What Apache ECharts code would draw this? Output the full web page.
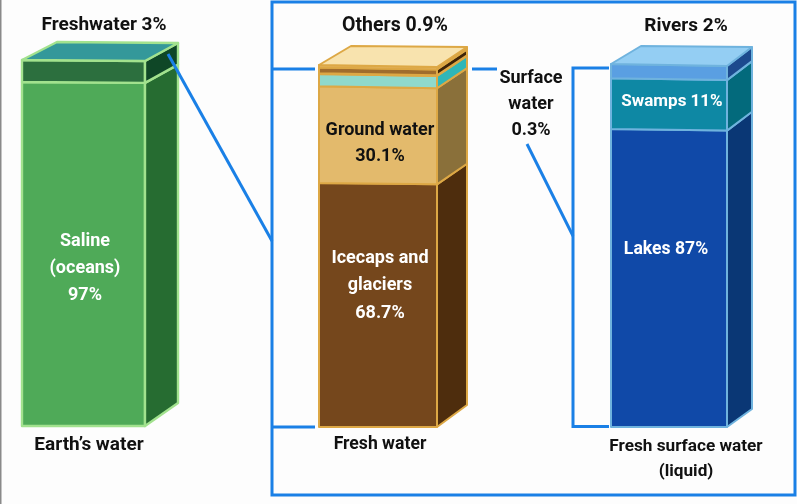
<!DOCTYPE html>
<html><head><meta charset="utf-8">
<script src="https://cdn.jsdelivr.net/npm/echarts@6/dist/echarts.min.js"></script>
<style>html,body{margin:0;padding:0;background:#fdfdfd}#c{width:797px;height:504px}</style>
</head><body><div id="c"></div>
<script>
// Band heights as drawn in the picture, in percent of each column's height, bottom to top.
const earthBands = ['Saline (oceans)', 'Freshwater'];
const earthDrawn = [94, 6];
const freshBands = ['Icecaps and glaciers', 'Ground water', 'Surface water', 'Others (lower)', 'Others (middle)', 'Others (upper)'];
const freshDrawn = [67.4, 26.7, 3.4, 0.2, 1.6, 0.7];
const surfaceBands = ['Lakes', 'Swamps', 'Rivers'];
const surfaceDrawn = [82.1, 14, 3.9];

const earthTexts = [['Saline', '(oceans)', '97%'], ['Freshwater 3%'], ["Earth\u2019s water"]];
const freshTexts = [['Icecaps and', 'glaciers', '68.7%'], ['Ground water', '30.1%'], ['Others 0.9%'], ['Fresh water'], ['Surface', 'water', '0.3%']];
const surfaceTexts = [['Lakes 87%'], ['Swamps 11%'], ['Rivers 2%'], ['Fresh surface water', '(liquid)']];

const columns = [
  {values: earthDrawn, left: 22, width: 123, top: 60, bottom: 426, dx: 33, dxBack: 35, dyTop: 18, dyBot: 23, slope: 1,
   stroke: '#A2E28E', lw: 2.4, topFill: '#34989A',
   front: ['#4FAA58', '#2C6F3E'], side: ['#266C31', '#0F4727']},
  {values: freshDrawn, left: 319, width: 118, top: 65, bottom: 427, dx: 30, dxBack: 32, dyTop: 20, dyBot: 22, slope: 2,
   stroke: '#DDA845', lw: 2, topFill: '#F8E3AE',
   front: ['#75471C', '#E3BA6C', '#8FD9CC', '#E6C075', '#A06C2C', '#E2B566'],
   side: ['#4E2D0D', '#8A703A', '#2FB6B8', '#7A4E1A', '#3E2408', '#C99A45']},
  {values: surfaceDrawn, left: 611, width: 116, top: 64, bottom: 427, dx: 25, dxBack: 30, dyTop: 19, dyBot: 18, slope: 2,
   stroke: '#6FB3DE', lw: 2, topFill: '#94CEF3',
   front: ['#1049A8', '#0E88A4', '#5A9FE2'], side: ['#0A3775', '#036A7C', '#1C4A8E']}
];

function bandData(values) {
  let sum = 0;
  return values.map((v, i) => { const d = ['c', sum, sum + v, i]; sum += v; return d; });
}

function renderBand(col) {
  return function (params, api) {
    const start = api.value(1), end = api.value(2), idx = api.value(3);
    const pb = api.coord(['c', start]), pt = api.coord(['c', end]);
    const halfW = api.size([1, 0])[0] / 2;
    const xL = pb[0] - halfW, xR = pb[0] + halfW;
    const skew = v => col.slope * v / 100;
    const depth = v => col.dyBot + (col.dyTop - col.dyBot) * v / 100;
    const stroke = {stroke: col.stroke, lineWidth: col.lw, lineJoin: 'round'};
    const children = [
      {type: 'polygon', shape: {points: [[xL, pt[1]], [xR, pt[1] + skew(end)], [xR, pb[1] + skew(start)], [xL, pb[1]]]},
       style: Object.assign({fill: col.front[idx]}, stroke)},
      {type: 'polygon', shape: {points: [[xR, pt[1] + skew(end)], [xR + col.dx, pt[1] + skew(end) - depth(end)], [xR + col.dx, pb[1] + skew(start) - depth(start)], [xR, pb[1] + skew(start)]]},
       style: Object.assign({fill: col.side[idx]}, stroke)}
    ];
    if (idx === col.values.length - 1) {
      const yR = pt[1] + skew(end), d = depth(end);
      children.push({type: 'polygon', shape: {points: [[xL, pt[1]], [xR, yR], [xR + col.dx, yR - d], [xL + col.dxBack, yR - d - 1]]},
        style: Object.assign({fill: col.topFill}, stroke)});
    }
    return {type: 'group', children};
  };
}

const FONT = '"Roboto", "Noto Sans", sans-serif';
function textBlock(lines, cx, y, fill, size, step) {
  return lines.map((t, i) => ({type: 'text', x: cx, y: y + i * (step || 27), z: 100,
    style: {text: t, fill: fill, font: 'bold ' + size + 'px ' + FONT, textAlign: 'center', textVerticalAlign: 'middle'}}));
}
const LINE = '#1A80E6';
function seg(pts, w) { return {type: 'polyline', z: 90, shape: {points: pts}, style: {stroke: LINE, lineWidth: w || 3, fill: 'none'}}; }

const graphicEls = [
  {type: 'rect', shape: {x: 0, y: 0, width: 1.5, height: 504}, style: {fill: '#8a8a8a'}},
  {type: 'rect', z: 90, shape: {x: 272, y: 2, width: 523, height: 493}, style: {fill: 'none', stroke: LINE, lineWidth: 3}},
  seg([[272, 69], [315, 69]]), seg([[272, 427], [315, 427]]),
  seg([[472, 69], [497, 69]]),
  seg([[527, 144], [573, 236]]),
  seg([[609, 68], [573, 68], [573, 426.5], [609, 426.5]]),
  seg([[168, 54], [272, 241]]),
].concat(
  textBlock(earthTexts[1], 104, 25, '#111', 19), textBlock(earthTexts[2], 89, 445, '#111', 19),
  textBlock(earthTexts[0], 85, 241.5, '#fff', 18, 27),
  textBlock(freshTexts[2], 395, 26, '#111', 19.5), textBlock(freshTexts[3], 380, 445, '#111', 17.6),
  textBlock(freshTexts[0], 380, 258, '#fff', 18, 27.5), textBlock(freshTexts[1], 380, 130.5, '#111', 18, 25.5),
  textBlock(freshTexts[4], 531, 78, '#111', 18, 26),
  textBlock(surfaceTexts[2], 686, 26, '#111', 19), textBlock(surfaceTexts[1], 672, 102, '#fff', 17),
  textBlock(surfaceTexts[0], 666, 249.5, '#fff', 17.6), textBlock(surfaceTexts[3], 686, 447, '#111', 17.2, 25)
);

const chart = echarts.init(document.getElementById('c'), null, {renderer: 'canvas'});
chart.setOption({
  animation: false,
  backgroundColor: '#fdfdfd',
  grid: columns.map(c => ({left: c.left, width: c.width, top: c.top, height: c.bottom - c.top})),
  xAxis: columns.map((c, i) => ({type: 'category', gridIndex: i, data: ['c'], show: false})),
  yAxis: columns.map((c, i) => ({type: 'value', gridIndex: i, min: 0, max: 100, show: false})),
  series: columns.map((c, i) => ({
    type: 'custom', xAxisIndex: i, yAxisIndex: i, clip: false, silent: true,
    renderItem: renderBand(c), data: bandData(c.values), encode: {x: 0, y: [1, 2]}
  })),
  graphic: {elements: graphicEls}
});
</script></body></html>
